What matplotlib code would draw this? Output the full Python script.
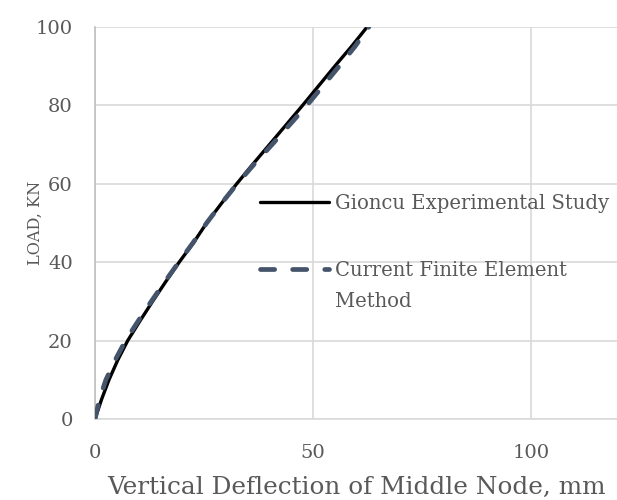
import matplotlib.pyplot as plt

# ---------------------- data ----------------------
loads = [0, 5, 10, 15, 20, 25, 30, 35, 40, 45, 50, 55, 60, 65, 70, 75, 80, 85, 90, 95, 100]

# Gioncu experimental study - deflection (mm)
exp_defl = [0, 1.5, 3.2, 5.2, 7.5, 10.3, 13.2, 16.2, 19.3, 22.6, 25.6,
            29.0, 32.5, 36.2, 40.0, 43.8, 47.6, 51.3, 55.0, 58.8, 62.4]

# current finite element method - deflection (mm)
fem_defl = [0, 1.0, 2.5, 4.6, 7.0, 9.9, 12.9, 16.0, 19.2, 22.5, 25.6,
            29.0, 32.6, 36.5, 40.6, 44.6, 48.6, 52.3, 56.0, 59.6, 62.8]

x_ticks = [0, 50, 100]
y_ticks = [0, 20, 40, 60, 80, 100]

grey = '#595959'
plt.rcParams['font.family'] = ['DejaVu Serif']

fig = plt.figure(figsize=(6.17, 5), dpi=100)
ax = fig.add_axes([0.154, 0.162, 0.848, 0.784])

ax.plot(exp_defl, loads, color='black', linewidth=2.4, solid_capstyle='round',
        label='Gioncu Experimental Study', zorder=3)
ax.plot(fem_defl, loads, color='#44546A', linewidth=3.4, linestyle=(0, (3.0, 3.8)),
        dash_capstyle='round', label='Current Finite Element', zorder=4)

ax.set_xlim(0, 120)
ax.set_ylim(0, 100)
ax.set_xticks(x_ticks)
ax.set_yticks(y_ticks)
ax.grid(True, color='#D9D9D9', linewidth=1.2, zorder=0)
ax.set_axisbelow(True)

for s in ['top', 'right']:
    ax.spines[s].set_visible(False)
ax.spines['left'].set_color('#BFBFBF')
ax.spines['bottom'].set_color('#D9D9D9')
ax.spines['left'].set_linewidth(1.2)
ax.spines['bottom'].set_linewidth(1.2)
ax.tick_params(length=0, labelsize=14, labelcolor=grey)
ax.tick_params(axis='x', pad=18)
ax.tick_params(axis='y', pad=16)

ax.set_xlabel('Vertical Deflection of Middle Node, mm', fontsize=17.8, color=grey, labelpad=10)
ax.set_ylabel('LOAD, KN', fontsize=11.6, color=grey)
ax.yaxis.set_label_coords(-0.097, 0.5)

leg = ax.legend(loc='upper left', bbox_to_anchor=(260 / 617, 1 - 194 / 500),
                bbox_transform=fig.transFigure, frameon=False, borderpad=0,
                borderaxespad=0, fontsize=14.1, handlelength=3.5, handletextpad=0.33,
                labelspacing=2.45, labelcolor=grey)

# second legend label wraps onto a new line
fig.canvas.draw()
bb = leg.get_texts()[1].get_window_extent()
x0, y0 = fig.transFigure.inverted().transform((bb.x0, bb.y0))
fig.text(x0, y0 - 0.024, 'Method', fontsize=14.1, color=grey, va='top', ha='left')

fig.savefig('out.png', dpi=100)
